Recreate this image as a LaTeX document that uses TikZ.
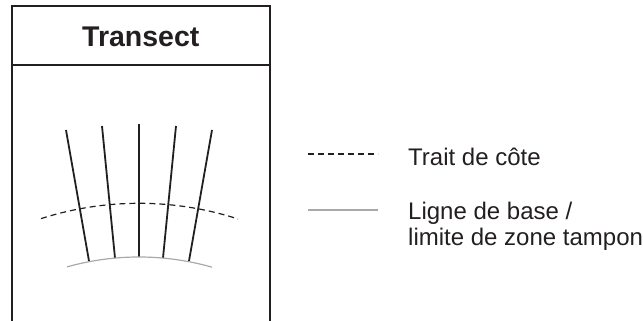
\documentclass[tikz,border=0pt]{standalone}
\usepackage{fontspec}
\setmainfont{Liberation Sans}
\definecolor{ink}{HTML}{231F20}
\definecolor{basegray}{HTML}{A7A9AC}
\tikzset{
  frameline/.style={line width=2pt, draw=ink},
  transect/.style={line width=1.8pt, draw=ink},
  coastline/.style={line width=1.2pt, draw=ink, dash pattern=on 6pt off 4pt},
  baseedge/.style={line width=1.2pt, draw=basegray},
  legendtext/.style={inner sep=0pt, text=ink, font=\fontsize{24}{26.7}\selectfont, align=left}
}
\begin{document}
\begin{tikzpicture}[x=1pt, y=-1pt]
\useasboundingbox (0,0) rectangle (643,321);
% frame
\draw[frameline](11.7,330)--(11.7,6)--(270,6)--(270,330);
\draw[frameline](11.7,65)--(270,65);
\node[anchor=base, inner sep=0pt, text=ink, font=\fontsize{28.5}{30}\selectfont\bfseries] (title) at (140.8,46.5) {Transect};
% transects
\foreach \xa/\ya/\xb/\yb in {89/261/66/130, 115/258/102/126, 139/257/139/124, 163/258/176/126, 189/261/212/130}
  \draw[transect](\xa,\ya)--(\xb,\yb);
% coast and base line (arcs, in tens of px)
\draw[coastline, domain=41:238, samples=60] plot(\x,{524-10*sqrt(32.07*32.07-(\x/10-13.9)*(\x/10-13.9))});
\draw[baseedge, domain=67:212, samples=60] plot(\x,{524-10*sqrt(26.7*26.7-(\x/10-13.9)*(\x/10-13.9))});
% legend
\coordinate (coastA) at (308,154);
\coordinate (coastB) at (378,154);
\coordinate (baseA) at (308,210);
\coordinate (baseB) at (378,210);
\draw[coastline](coastA)--(coastB);
\draw[baseedge](baseA)--(baseB);
\node[legendtext, anchor=base west] (coastlabel) at (408,165) {Trait de côte};
\node[legendtext, anchor=base west] (baselabel) at (408,245.7) {Ligne de base /\\limite de zone tampon};
\end{tikzpicture}
\end{document}
